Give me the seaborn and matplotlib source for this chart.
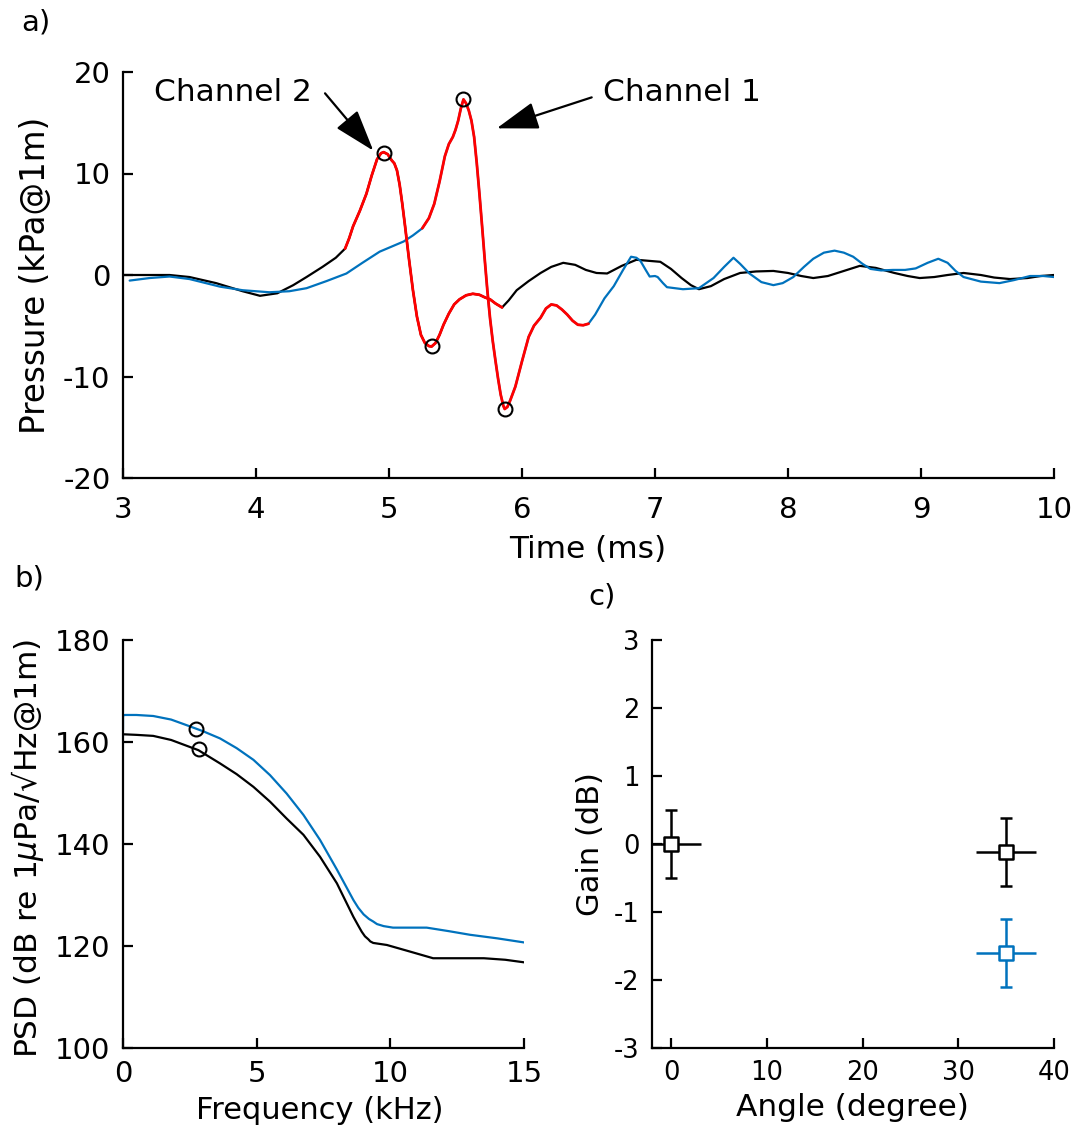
import numpy as np
import pandas as pd
import matplotlib
matplotlib.use("Agg")
import matplotlib.pyplot as plt
import seaborn as sns

# ---------------- data ----------------
# panel a: Channel 2 (black)
time_ch2 = [3.0, 3.15, 3.35, 3.5, 3.7, 3.9, 4.03, 4.16, 4.28, 4.38, 4.5, 4.6, 4.67,
            4.70, 4.73, 4.78, 4.83, 4.87, 4.91, 4.94, 4.96, 4.99, 5.02, 5.04, 5.06,
            5.08, 5.10, 5.12, 5.15, 5.18, 5.21, 5.24, 5.27, 5.30, 5.32, 5.35, 5.38,
            5.41, 5.45, 5.49, 5.53, 5.58, 5.63, 5.68, 5.72, 5.76, 5.80, 5.85, 5.9,
            5.96, 6.05, 6.14, 6.22, 6.31, 6.4, 6.48, 6.56, 6.64, 6.75, 6.86, 6.95,
            7.04, 7.12, 7.2, 7.27, 7.33, 7.42, 7.52, 7.64, 7.76, 7.89, 8.0, 8.1,
            8.19, 8.3, 8.42, 8.54, 8.66, 8.8, 8.9, 8.99, 9.1, 9.2, 9.32, 9.45,
            9.55, 9.67, 9.8, 9.9, 10.0]
press_ch2 = [0.0, 0.0, 0.0, -0.2, -0.8, -1.6, -2.05, -1.8, -1.0, -0.2, 0.8, 1.7, 2.6,
             3.6, 4.8, 6.3, 8.0, 9.8, 11.4, 12.0, 12.1, 11.9, 11.3, 11.0, 10.3,
             8.9, 7.0, 4.9, 1.6, -1.5, -4.1, -5.9, -6.7, -7.0, -7.05, -6.7, -5.9,
             -4.9, -3.8, -2.9, -2.4, -2.0, -1.85, -1.95, -2.2, -2.4, -2.8, -3.2, -2.5,
             -1.5, -0.6, 0.2, 0.8, 1.2, 1.0, 0.5, 0.2, 0.15, 0.9, 1.5, 1.4,
             1.3, 0.6, -0.3, -1.0, -1.4, -1.1, -0.4, 0.2, 0.35, 0.4, 0.2, -0.1,
             -0.3, -0.1, 0.4, 0.9, 0.7, 0.2, -0.1, -0.3, -0.2, 0.0, 0.2, 0.0,
             -0.25, -0.4, -0.3, -0.1, 0.0]
# panel a: Channel 1 (blue)
time_ch1 = [3.05, 3.2, 3.35, 3.5, 3.73, 3.9, 4.1, 4.25, 4.38, 4.53, 4.68, 4.8, 4.93,
            5.02, 5.11, 5.18, 5.25, 5.30, 5.34, 5.38, 5.42, 5.45, 5.48, 5.50, 5.52,
            5.54, 5.56, 5.58, 5.60, 5.62, 5.64, 5.66, 5.68, 5.70, 5.72, 5.74, 5.76,
            5.78, 5.80, 5.82, 5.84, 5.86, 5.87, 5.89, 5.91, 5.95, 6.00, 6.05, 6.09,
            6.14, 6.18, 6.22, 6.26, 6.30, 6.34, 6.38, 6.42, 6.46, 6.50, 6.55, 6.62,
            6.69, 6.76, 6.82, 6.86, 6.89, 6.93, 6.96, 7.0, 7.02, 7.06, 7.09, 7.21,
            7.33, 7.44, 7.52, 7.59, 7.64, 7.71, 7.8, 7.89, 7.96, 8.04, 8.12, 8.19,
            8.27, 8.35, 8.42, 8.49, 8.56, 8.62, 8.7, 8.79, 8.88, 8.96, 9.05, 9.13,
            9.2, 9.26, 9.32, 9.45, 9.59, 9.7, 9.82, 9.92, 10.0]
press_ch1 = [-0.55, -0.3, -0.15, -0.4, -1.15, -1.5, -1.7, -1.6, -1.3, -0.6, 0.15, 1.2, 2.3,
             2.8, 3.3, 3.9, 4.6, 5.6, 7.0, 9.2, 11.7, 12.9, 13.6, 14.3, 15.2,
             16.4, 17.3, 16.9, 16.2, 15.2, 13.6, 11.0, 8.0, 4.8, 1.5, -1.6, -4.3,
             -6.5, -8.4, -10.2, -11.8, -12.9, -13.2, -13.0, -12.4, -11.0, -8.5, -6.1, -5.0,
             -4.2, -3.3, -2.9, -3.0, -3.4, -3.9, -4.5, -4.9, -4.95, -4.8, -3.9, -2.3,
             -1.1, 0.5, 1.8, 1.7, 1.4, 0.5, -0.15, -0.1, -0.2, -0.8, -1.2, -1.4,
             -1.3, -0.3, 0.8, 1.7, 1.1, 0.15, -0.7, -1.0, -0.8, -0.2, 0.8, 1.6,
             2.2, 2.4, 2.2, 1.8, 1.1, 0.6, 0.45, 0.5, 0.5, 0.65, 1.2, 1.6,
             1.2, 0.4, -0.2, -0.65, -0.8, -0.5, -0.1, -0.1, -0.2]
red_ch2_range = (4.67, 5.85)
red_ch1_range = (5.25, 6.50)
peak_time = [4.96, 5.32, 5.56, 5.87]
peak_press = [12.0, -7.0, 17.3, -13.2]

# panel b: PSD
freq_ch1 = [0.0, 0.0, 0.07, 0.5, 1.13, 1.8, 2.38, 3.0, 3.63, 4.25, 4.88, 5.5, 6.12,
            6.75, 7.37, 8.0, 8.62, 8.8, 9.0, 9.2, 9.36, 9.5, 9.75, 10.1, 10.7, 11.36,
            12.2, 12.98, 14.0, 15.0]
psd_ch1 = [162.4, 165.2, 165.3, 165.3, 165.1, 164.4, 163.3, 162.1, 160.7, 158.8, 156.5,
           153.5, 149.9, 145.7, 140.8, 135.0, 129.0, 127.5, 126.2, 125.3, 124.8, 124.3,
           123.9, 123.6, 123.6, 123.6, 122.9, 122.2, 121.5, 120.7]
freq_ch2 = [0.0, 0.07, 0.5, 1.13, 1.8, 2.82, 3.63, 4.25, 4.88, 5.5, 6.12, 6.75, 7.37,
            8.0, 8.62, 8.8, 8.93, 9.05, 9.18, 9.25, 9.36, 9.87, 10.74, 11.6, 12.5,
            13.5, 14.3, 15.0]
psd_ch2 = [161.5, 161.5, 161.4, 161.2, 160.4, 158.4, 155.8, 153.7, 151.2, 148.3, 145.0,
           141.8, 137.5, 132.3, 125.7, 124.0, 122.8, 121.9, 121.3, 120.9, 120.6, 120.2,
           118.9, 117.6, 117.6, 117.6, 117.3, 116.8]
psd_mark_freq = [2.73, 2.84]
psd_mark_val = [162.5, 158.6]

# panel c: gain vs angle
angle = [0, 35, 35]
gain = [0.0, -0.12, -1.6]
gain_channel = ["Channel 2", "Channel 2", "Channel 1"]
angle_err = [3.1, 3.1, 3.1]
gain_err = [0.5, 0.5, 0.5]

# ---------------- style ----------------
BLUE = "#0072BD"
sns.set_theme(style="ticks")
plt.rcParams["font.family"] = ["DejaVu Sans"]
plt.rcParams["axes.unicode_minus"] = False
plt.rcParams["xtick.direction"] = "in"
plt.rcParams["ytick.direction"] = "in"
plt.rcParams["axes.linewidth"] = 1.6
plt.rcParams["xtick.major.width"] = 1.6
plt.rcParams["ytick.major.width"] = 1.6
plt.rcParams["xtick.major.size"] = 7
plt.rcParams["ytick.major.size"] = 7
plt.rcParams["axes.edgecolor"] = "black"
plt.rcParams["xtick.color"] = "black"
plt.rcParams["ytick.color"] = "black"
plt.rcParams["xtick.labelcolor"] = "black"
plt.rcParams["ytick.labelcolor"] = "black"
plt.rcParams["text.color"] = "black"
plt.rcParams["axes.labelcolor"] = "black"

fig = plt.figure(figsize=(10.78, 11.37), dpi=100)
axa = fig.add_axes([123/1078, 1-478/1137, 931/1078, 406/1137])
axb = fig.add_axes([123/1078, 1-1048/1137, 401/1078, 408/1137])
axc = fig.add_axes([652/1078, 1-1048/1137, 402/1078, 408/1137])


def style_axes(ax, tick_fs, xpad, ypad, xlab_fs, ylab_fs):
    sns.despine(ax=ax)
    ax.tick_params(axis="x", labelsize=tick_fs, pad=xpad, colors="black")
    ax.tick_params(axis="y", labelsize=tick_fs, pad=ypad, colors="black")
    ax.xaxis.label.set_fontsize(xlab_fs)
    ax.yaxis.label.set_fontsize(ylab_fs)
    ax.xaxis.label.set_color("black")
    ax.yaxis.label.set_color("black")

# ---------------- panel a ----------------
df2 = pd.DataFrame({"t": time_ch2, "p": press_ch2})
df1 = pd.DataFrame({"t": time_ch1, "p": press_ch1})
sns.lineplot(data=df2, x="t", y="p", ax=axa, color="black", lw=1.6, sort=False, estimator=None)
sns.lineplot(data=df1, x="t", y="p", ax=axa, color=BLUE, lw=1.6, sort=False, estimator=None)
r2 = df2[(df2.t >= red_ch2_range[0]) & (df2.t <= red_ch2_range[1])]
r1 = df1[(df1.t >= red_ch1_range[0]) & (df1.t <= red_ch1_range[1])]
sns.lineplot(data=r2, x="t", y="p", ax=axa, color="red", lw=2.0, sort=False, estimator=None)
sns.lineplot(data=r1, x="t", y="p", ax=axa, color="red", lw=2.0, sort=False, estimator=None)
axa.plot(peak_time, peak_press, ls="none", marker="o", ms=10, mfc="none", mec="black", mew=1.5)

axa.set_xlim(3, 10)
axa.set_ylim(-20, 20)
axa.set_xticks([3, 4, 5, 6, 7, 8, 9, 10])
axa.set_yticks([-20, -10, 0, 10, 20])
axa.set_xlabel("Time (ms)")
axa.set_ylabel("Pressure (kPa@1m)")
style_axes(axa, 21, 13, 9, 22.5, 23.5)
axa.xaxis.set_label_coords(0.4995, -0.175)
axa.xaxis.label.set_va("center")
axa.yaxis.set_label_coords(-0.0945, 0.5)
axa.yaxis.label.set_va("center")

arrow = dict(arrowstyle="-|>,head_length=1.0,head_width=0.33", color="black", lw=1.6,
             shrinkA=0, shrinkB=0, mutation_scale=26)
axa.annotate("", xy=(4.882, 12.25), xytext=(4.519, 17.9), arrowprops=arrow)
axa.annotate("", xy=(5.81, 14.45), xytext=(6.524, 17.5), arrowprops=arrow)
axa.text(3.827, 17.98, "Channel 2", fontsize=22.5, ha="center", va="center")
axa.text(7.2, 17.98, "Channel 1", fontsize=22.5, ha="center", va="center")

# ---------------- panel b ----------------
sns.lineplot(x=freq_ch2, y=psd_ch2, ax=axb, color="black", lw=1.6, sort=False, estimator=None)
sns.lineplot(x=freq_ch1, y=psd_ch1, ax=axb, color=BLUE, lw=1.6, sort=False, estimator=None)
axb.plot(psd_mark_freq, psd_mark_val, ls="none", marker="o", ms=10, mfc="none", mec="black", mew=1.5)
axb.set_xlim(0, 15)
axb.set_ylim(100, 180)
axb.set_xticks([0, 5, 10, 15])
axb.set_yticks([100, 120, 140, 160, 180])
axb.set_xlabel("Frequency (kHz)")
axb.set_ylabel(r"PSD (dB re 1$\mu$Pa/√Hz@1m)")
style_axes(axb, 21, 9, 9, 22, 22.5)
axb.xaxis.set_label_coords(0.491, -0.152)
axb.xaxis.label.set_va("center")
axb.yaxis.set_label_coords(-0.239, 0.49)
axb.yaxis.label.set_va("center")

# ---------------- panel c ----------------
dfc = pd.DataFrame({"angle": angle, "gain": gain, "ch": gain_channel,
                    "xerr": angle_err, "yerr": gain_err})
pal = {"Channel 2": "black", "Channel 1": BLUE}
for _, row in dfc.iterrows():
    c = pal[row.ch]
    axc.errorbar(row.angle, row.gain, xerr=row.xerr, fmt="none", ecolor=c, elinewidth=1.8,
                 capsize=0, zorder=2)
    axc.errorbar(row.angle, row.gain, yerr=row.yerr, fmt="none", ecolor=c, elinewidth=1.8,
                 capsize=4, capthick=1.8, zorder=2)
sns.scatterplot(data=dfc, x="angle", y="gain", hue="ch", palette=pal, ax=axc,
                marker="s", s=110, linewidth=1.8, legend=False, zorder=3)
sc = axc.collections[-1]
sc.set_edgecolors([pal[c] for c in gain_channel])
sc.set_facecolors("white")

axc.set_xlim(-2, 40)
axc.set_ylim(-3, 3)
axc.set_xticks([0, 10, 20, 30, 40])
axc.set_yticks([-3, -2, -1, 0, 1, 2, 3])
axc.set_xlabel("Angle (degree)")
axc.set_ylabel("Gain (dB)")
style_axes(axc, 18.5, 9, 9, 22.5, 22)
axc.xaxis.set_label_coords(0.4975, -0.147)
axc.xaxis.label.set_va("center")
axc.yaxis.set_label_coords(-0.154, 0.5)
axc.yaxis.label.set_va("center")

# panel labels
fig.text(36/1078, 1-23/1137, "a)", fontsize=21, ha="center", va="center")
fig.text(29/1078, 1-578/1137, "b)", fontsize=21, ha="center", va="center")
fig.text(602/1078, 1-597/1137, "c)", fontsize=21, ha="center", va="center")

fig.savefig("out.png", dpi=100, facecolor="white")
